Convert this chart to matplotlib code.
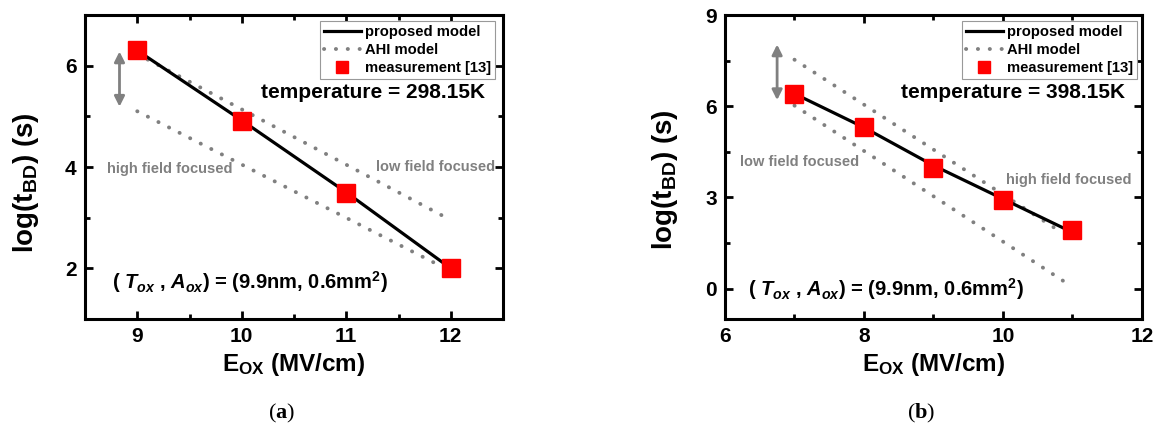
import numpy as np
import matplotlib
matplotlib.use('Agg')
import matplotlib.pyplot as plt
from matplotlib.ticker import MultipleLocator

plt.rcParams['font.family'] = ['Liberation Sans', 'DejaVu Sans']
plt.rcParams['font.weight'] = 'bold'
plt.rcParams['axes.labelweight'] = 'bold'
plt.rcParams['mathtext.fontset'] = 'custom'
plt.rcParams['mathtext.rm'] = 'Liberation Sans:bold'
plt.rcParams['mathtext.bf'] = 'Liberation Sans:bold'
plt.rcParams['mathtext.it'] = 'Liberation Sans:italic:bold'
plt.rcParams['mathtext.bfit'] = 'Liberation Sans:italic:bold'
plt.rcParams['mathtext.sf'] = 'Liberation Serif:bold'
plt.rcParams['mathtext.default'] = 'bf'

# ---- data, panel (a): 298.15K ----
a_meas_x = [9, 10, 11, 12]
a_meas_y = [6.3, 4.9, 3.48, 2.0]
a_model_x = [9, 10, 11, 12]
a_model_y = [6.3, 4.92, 3.5, 2.0]
a_ahi_low_x = [9, 11.93]      # low field focused
a_ahi_low_y = [6.23, 3.03]
a_ahi_high_x = [9, 11.9]      # high field focused
a_ahi_high_y = [5.1, 2.05]

# ---- data, panel (b): 398.15K ----
b_meas_x = [7, 8, 9, 10, 11]
b_meas_y = [6.41, 5.3, 3.98, 2.93, 1.92]
b_model_x = [7, 8, 9, 10, 11]
b_model_y = [6.41, 5.3, 4.05, 2.95, 1.85]
b_ahi_low_x = [7, 10.93]      # low field focused
b_ahi_low_y = [6.02, 0.16]
b_ahi_high_x = [7, 10.85]     # high field focused
b_ahi_high_y = [7.53, 1.84]

GRAY = '#808080'
dotted = (0, (0.05, 3.0))


def panel(ax, mx, my, lx, ly, l1x, l1y, l2x, l2y, temp, xlim, ylim,
          xmaj, xmin, ymaj, ymin, arrow, txt_low, txt_high, params_pos,
          leg_anchor, ylab_xy):
    ax.plot(l1x, l1y, color=GRAY, lw=2.8, ls=dotted, dash_capstyle='round',
            label='AHI model', zorder=2)
    ax.plot(l2x, l2y, color=GRAY, lw=2.8, ls=dotted, dash_capstyle='round',
            zorder=2)
    ax.plot(lx, ly, color='black', lw=2.3, label='proposed model', zorder=3)
    ax.plot(mx, my, 's', color='#ff0000', mec='#ff0000', ms=13,
            label='measurement [13]', zorder=4, ls='none')

    ax.set_xlim(*xlim)
    ax.set_ylim(*ylim)
    ax.xaxis.set_major_locator(MultipleLocator(xmaj))
    ax.xaxis.set_minor_locator(MultipleLocator(xmin))
    ax.yaxis.set_major_locator(MultipleLocator(ymaj))
    ax.yaxis.set_minor_locator(MultipleLocator(ymin))
    ax.tick_params(which='both', direction='in', top=True, right=True,
                   width=2, labelsize=15)
    ax.tick_params(which='major', length=6, pad=6)
    ax.tick_params(which='minor', length=3.5)
    for s in ax.spines.values():
        s.set_linewidth(2.2)

    ax.set_xlabel(r'E$_{OX}$ (MV/cm)', fontsize=17.5, labelpad=3)
    ax.set_ylabel(r'log(t$_{BD}$) (s)', fontsize=20)
    ax.yaxis.set_label_coords(*ylab_xy)

    ax.annotate('', xy=(arrow[0], arrow[1]), xytext=(arrow[0], arrow[2]),
                arrowprops=dict(arrowstyle='<|-|>', color=GRAY, lw=2,
                                mutation_scale=15, shrinkA=0, shrinkB=0))
    ax.text(txt_low[0], txt_low[1], 'low field focused', color=GRAY,
            fontsize=10.5, ha='center', va='center')
    ax.text(txt_high[0], txt_high[1], 'high field focused', color=GRAY,
            fontsize=10.5, ha='center', va='center')
    ax.text(0.69, 0.745, 'temperature = %sK' % temp, transform=ax.transAxes,
            fontsize=15, ha='center', va='center')
    ax.text(params_pos[0], params_pos[1],
            r'( $\mathbfit{T}_{\mathbfit{ox}}$ , $\mathbfit{A}_{\mathbfit{ox}}$) = (9.9nm, 0.6mm$^{2}$)',
            transform=ax.transAxes, fontsize=14.5, ha='left', va='center')

    h, l = ax.get_legend_handles_labels()
    order = [1, 0, 2]
    leg = ax.legend([h[i] for i in order], [l[i] for i in order],
                    loc='upper right', bbox_to_anchor=leg_anchor,
                    borderaxespad=0, fontsize=10.6, frameon=True,
                    fancybox=False, edgecolor='#999999', framealpha=1,
                    handlelength=2.5, handletextpad=0.3, borderpad=0.25,
                    labelspacing=0.28, markerscale=0.65, numpoints=1)
    leg.get_frame().set_linewidth(0.8)


fig = plt.figure(figsize=(11.55, 4.25), dpi=100)
ax1 = fig.add_axes([0.0736, 0.2494, 0.3619, 0.7153])
ax2 = fig.add_axes([0.6277, 0.2494, 0.3610, 0.7153])

panel(ax1, a_meas_x, a_meas_y, a_model_x, a_model_y,
      a_ahi_low_x, a_ahi_low_y, a_ahi_high_x, a_ahi_high_y, '298.15',
      (8.5, 12.5), (1, 7), 1, 0.5, 2, 1,
      (8.83, 6.28, 5.19), (11.85, 4.0), (9.31, 3.97), (0.065, 0.12),
      (0.981, 0.98), (-0.105, 0.45))
panel(ax2, b_meas_x, b_meas_y, b_model_x, b_model_y,
      b_ahi_low_x, b_ahi_low_y, b_ahi_high_x, b_ahi_high_y, '398.15',
      (6, 12), (-1, 9), 2, 1, 3, 1.5,
      (6.75, 8.03, 6.2), (7.07, 4.18), (10.95, 3.58), (0.055, 0.10),
      (0.988, 0.98), (-0.108, 0.457))

fig.text(282 / 1155, 1 - 413 / 425, r'($\mathsf{a}$)', family='Liberation Serif',
         weight='normal', fontsize=16, ha='center', va='center')
fig.text(921 / 1155, 1 - 413 / 425, r'($\mathsf{b}$)', family='Liberation Serif',
         weight='normal', fontsize=16, ha='center', va='center')

fig.savefig('out.png', dpi=100)
